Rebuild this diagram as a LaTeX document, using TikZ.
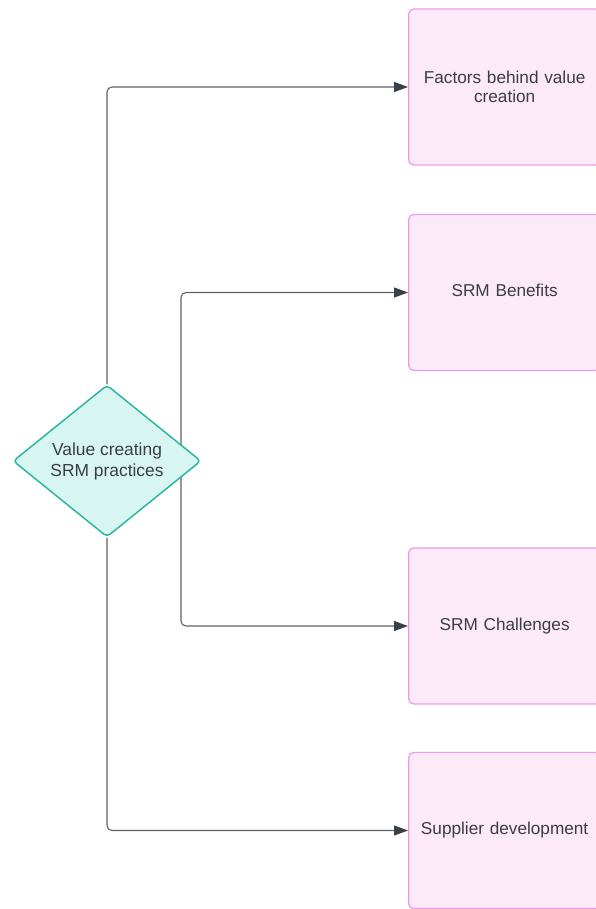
\documentclass[tikz,border=0pt]{standalone}
\usepackage{fontspec}
\setmainfont{Liberation Sans}
\usetikzlibrary{shapes.geometric,arrows.meta}
\definecolor{boxfill}{HTML}{FCEAF8}
\definecolor{boxline}{HTML}{EE9CE8}
\definecolor{dfill}{HTML}{D8F6F1}
\definecolor{dline}{HTML}{2EB6A2}
\definecolor{wire}{HTML}{5E6268}
\definecolor{tip}{HTML}{3A4048}
\definecolor{ink}{HTML}{3B3E42}
\tikzset{
  x=1pt, y=-1pt,
  topic/.style={draw=boxline, line width=1.3pt, fill=boxfill, rounded corners=5pt,
    minimum width=192pt, minimum height=156pt, anchor=west, inner sep=0pt,
    text=ink, font=\fontsize{17.2}{21}\selectfont, align=center, text width=188pt},
  decision/.style={diamond, draw=dline, line width=1.5pt, fill=dfill, rounded corners=4pt,
    minimum width=188pt, minimum height=152pt, inner sep=0pt, aspect=1.24,
    text=ink, font=\fontsize{17.4}{21}\selectfont, align=center},
  link/.style={draw=wire, line width=1.1pt, rounded corners=5pt,
    -{Triangle[length=14pt,width=10pt,fill=tip,color=tip]}},
}
\begin{document}
\begin{tikzpicture}
\useasboundingbox (0,0) rectangle (595,909);
\fill[white] (0,0) rectangle (595,909);

\node[topic] (t1) at (408,87) {Factors behind value\\[-2pt]creation\\[26pt]};
\node[topic] (t2) at (408,292.5) {\raisebox{4pt}{SRM Benefits}};
\node[topic] (t3) at (408,626) {\raisebox{3pt}{SRM Challenges}};
\node[topic] (t4) at (408,830.5) {\raisebox{-2pt}{Supplier development}};

% middle branch runs behind the diamond
\coordinate (mid) at (181,461);
\draw[link] (mid) |- (t2.west);
\draw[link] (mid) |- (t3.west);

\node[decision] (d) at (107,461) {\raisebox{3pt}{Value creating}\\\raisebox{3pt}{SRM practices}};

\draw[link] (d.north) |- (t1.west);
\draw[link] (d.south) |- (t4.west);
\end{tikzpicture}
\end{document}
